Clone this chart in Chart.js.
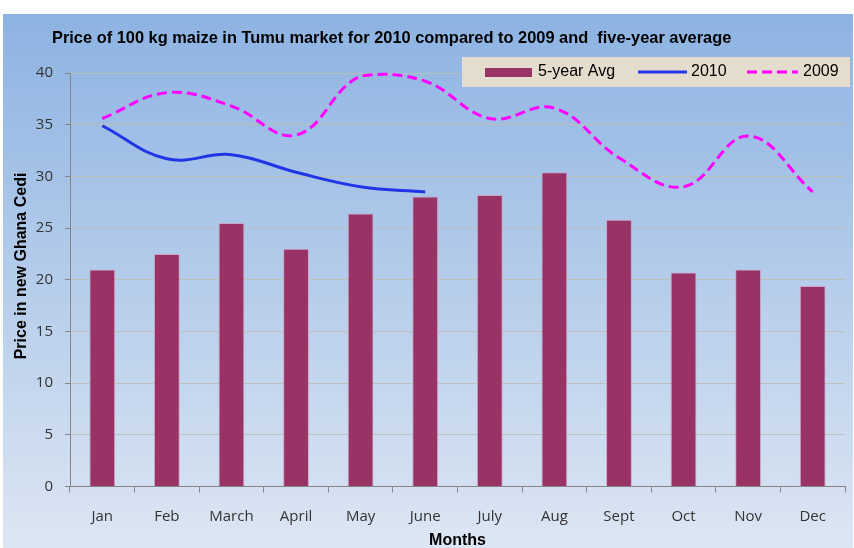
<!DOCTYPE html>
<html>
<head>
<meta charset="utf-8">
<script src="https://cdn.jsdelivr.net/npm/chart.js@4/dist/chart.umd.min.js"></script>
<style>
    html, body { margin: 0; padding: 0; background: #fff; }
    canvas { display: block; }
</style>
</head>
<body>
<canvas id="maizeChart" width="854" height="548"></canvas>
<script>
// ---- Data ----
const months = ['Jan', 'Feb', 'March', 'April', 'May', 'June', 'July', 'Aug', 'Sept', 'Oct', 'Nov', 'Dec'];
const fiveYearAvg = [21, 22.5, 25.5, 23, 26.4, 28.05, 28.2, 30.4, 25.8, 20.7, 21, 19.4];
const price2010 = [34.9, 31.7, 32.1, 30.4, 29.0, 28.5, null, null, null, null, null, null];
const price2009 = [35.6, 38.1, 36.8, 34.0, 39.7, 39.2, 35.6, 36.6, 31.8, 29.0, 33.9, 28.5];
const yMin = 0;
const yMax = 40;
const yStep = 5;

const chartTitle = 'Price of 100 kg maize in Tumu market for 2010 compared to 2009 and  five-year average';
const yTitle = 'Price in new Ghana Cedi';
const xTitle = 'Months';

const TICK_FONT = { family: '"Open Sans", sans-serif', size: 15 };
const BOLD_FONT = '"Liberation Sans", Arial, sans-serif';

// ---- Background, title, legend (drawn like the Excel original) ----
const decorPlugin = {
    id: 'decor',
    beforeDraw(chart) {
        const { ctx, width, height } = chart;
        ctx.save();
        ctx.fillStyle = '#ffffff';
        ctx.fillRect(0, 0, width, height);
        const grad = ctx.createLinearGradient(0, 14, 0, height);
        grad.addColorStop(0, '#8db3e2');
        grad.addColorStop(1, '#dde6f3');
        ctx.fillStyle = grad;
        ctx.fillRect(3, 14, width - 4, height - 14);

        // chart title
        ctx.fillStyle = '#000';
        ctx.font = `bold 16.4px ${BOLD_FONT}`;
        ctx.textBaseline = 'middle';
        ctx.textAlign = 'left';
        ctx.fillText(chartTitle, 52, 38);

        // y axis title
        ctx.translate(22, 266);
        ctx.rotate(-Math.PI / 2);
        ctx.font = `bold 16px ${BOLD_FONT}`;
        ctx.textAlign = 'center';
        ctx.fillText(yTitle, 0, 0);
        ctx.restore();
    },
    afterDraw(chart) {
        const { ctx } = chart;
        const ds = chart.data.datasets;
        ctx.save();
        ctx.fillStyle = '#e4dccc';
        ctx.fillRect(462, 57, 388, 30);

        ctx.font = `16px "Liberation Sans", Arial, sans-serif`;
        ctx.textBaseline = 'middle';
        ctx.textAlign = 'left';
        const cy = 72;

        // 5-year Avg swatch
        ctx.fillStyle = ds[0].backgroundColor;
        ctx.fillRect(485, 68, 47, 9);
        ctx.fillStyle = '#000';
        ctx.fillText(ds[0].label, 538, cy);

        // 2010 line
        ctx.strokeStyle = ds[1].borderColor;
        ctx.lineWidth = 3;
        ctx.beginPath();
        ctx.moveTo(638, cy);
        ctx.lineTo(687, cy);
        ctx.stroke();
        ctx.fillText(ds[1].label, 691, cy);

        // 2009 dashed line
        ctx.strokeStyle = ds[2].borderColor;
        ctx.setLineDash(ds[2].borderDash);
        ctx.beginPath();
        ctx.moveTo(747, cy);
        ctx.lineTo(798, cy);
        ctx.stroke();
        ctx.setLineDash([]);
        ctx.fillText(ds[2].label, 803, cy);
        ctx.restore();
    }
};

new Chart(document.getElementById('maizeChart'), {
    data: {
        labels: months,
        datasets: [
            {
                type: 'bar',
                label: '5-year Avg',
                data: fiveYearAvg,
                backgroundColor: '#993366',
                borderColor: 'rgba(205, 160, 195, 0.9)',
                borderWidth: 1,
                barPercentage: 0.4,
                categoryPercentage: 1,
                order: 3
            },
            {
                type: 'line',
                label: '2010',
                data: price2010,
                borderColor: '#1f35e6',
                borderWidth: 3,
                pointRadius: 0,
                tension: 0.4,
                fill: false,
                clip: false,
                order: 2
            },
            {
                type: 'line',
                label: '2009',
                data: price2009,
                borderColor: '#ff00ff',
                borderWidth: 3,
                borderDash: [10, 5],
                pointRadius: 0,
                tension: 0.4,
                fill: false,
                clip: false,
                order: 1
            }
        ]
    },
    options: {
        responsive: false,
        animation: false,
        layout: { padding: { top: 73, right: 9, bottom: 0, left: 0 } },
        plugins: {
            legend: { display: false },
            tooltip: { enabled: false }
        },
        scales: {
            x: {
                grid: {
                    display: true,
                    drawOnChartArea: false,
                    offset: true,
                    tickLength: 6,
                    tickColor: '#868686'
                },
                border: { display: true, color: '#868686' },
                ticks: { font: TICK_FONT, color: '#333333', padding: 15, maxRotation: 0 },
                title: {
                    display: true,
                    text: xTitle,
                    color: '#000',
                    font: { family: BOLD_FONT, size: 16, weight: 'bold', lineHeight: 0.875 },
                    padding: 0
                },
                afterFit(scale) { scale.height = 61.5; }
            },
            y: {
                min: yMin,
                max: yMax,
                grid: {
                    color: 'rgba(190, 190, 180, 0.9)',
                    tickLength: 5,
                    tickColor: '#868686'
                },
                border: { display: true, color: '#868686' },
                ticks: { stepSize: yStep, font: TICK_FONT, color: '#333333', padding: 12 },
                afterFit(scale) { scale.width = 70; }
            }
        }
    },
    plugins: [decorPlugin]
});
</script>
</body>
</html>
